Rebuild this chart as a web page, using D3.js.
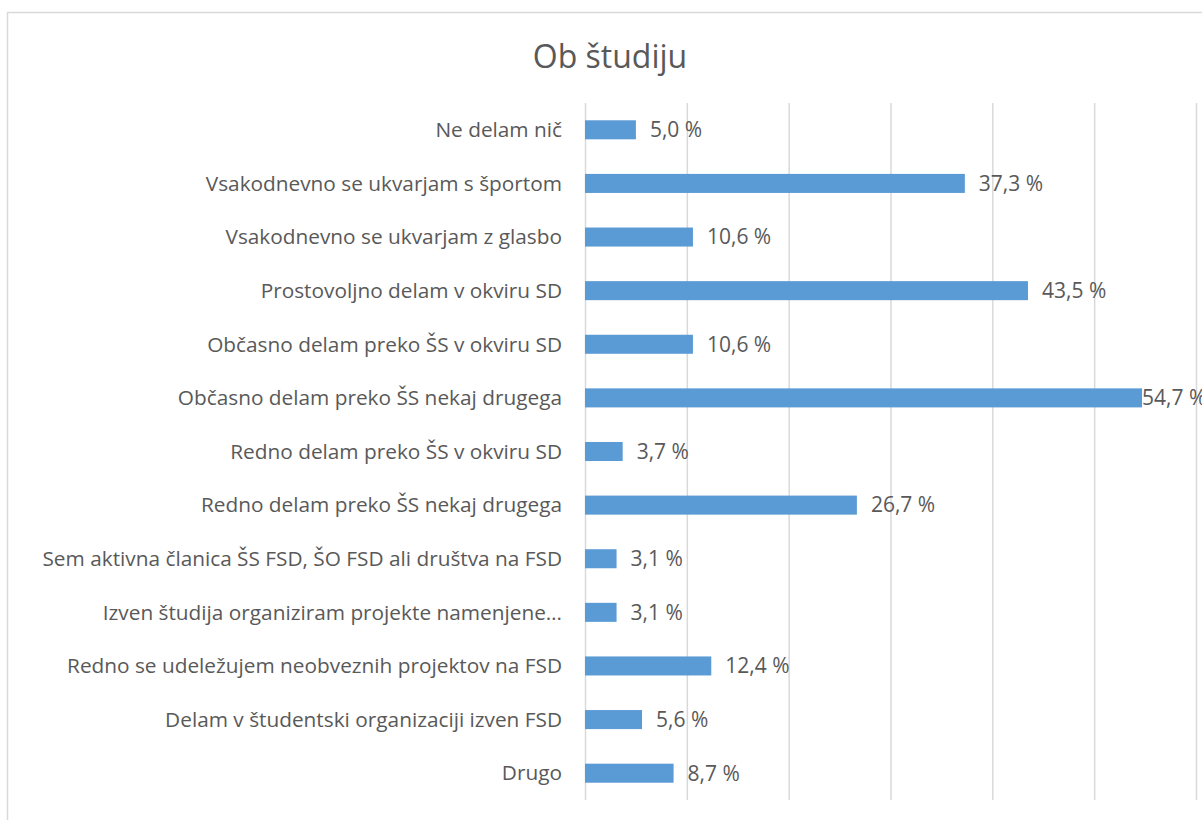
<!DOCTYPE html>
<html>
<head>
<meta charset="utf-8">
<script src="https://cdn.jsdelivr.net/npm/d3@7"></script>
<style>
  body { margin: 0; background: #fff; }
  svg { display: block; font-family: "Open Sans", sans-serif; }
</style>
</head>
<body>
<svg id="chart" width="1202" height="820"></svg>
<script>
// data
const title = "Ob študiju";
const categories = [
  "Ne delam nič",
  "Vsakodnevno se ukvarjam s športom",
  "Vsakodnevno se ukvarjam z glasbo",
  "Prostovoljno delam v okviru SD",
  "Občasno delam preko ŠS v okviru SD",
  "Občasno delam preko ŠS nekaj drugega",
  "Redno delam preko ŠS v okviru SD",
  "Redno delam preko ŠS nekaj drugega",
  "Sem aktivna članica ŠS FSD, ŠO FSD ali društva na FSD",
  "Izven študija organiziram projekte namenjene…",
  "Redno se udeležujem neobveznih projektov na FSD",
  "Delam v študentski organizaciji izven FSD",
  "Drugo"
];
const values = [5.0, 37.3, 10.6, 43.5, 10.6, 54.7, 3.7, 26.7, 3.1, 3.1, 12.4, 5.6, 8.7];
const xTicks = [0, 10, 20, 30, 40, 50, 60];

const svg = d3.select("#chart");
const textColor = "#595959";
const gridColor = "#d9d9d9";
const barColor = "#5b9bd5";

const plot = { left: 585, right: 1196, top: 103, bottom: 800 };
const chartRight = 1208;

// chart border (runs off the right and bottom edges)
svg.append("rect")
  .attr("x", 7.5).attr("y", 12.5)
  .attr("width", 1220).attr("height", 830)
  .attr("fill", "none")
  .attr("stroke", gridColor)
  .attr("stroke-width", 1.5);

svg.append("text")
  .attr("x", 610).attr("y", 68)
  .attr("text-anchor", "middle")
  .style("font-size", "32px")
  .style("fill", textColor)
  .text(title);

const x = d3.scaleLinear().domain([0, 60]).range([plot.left, plot.right]);
const y = d3.scaleBand()
  .domain(categories)
  .range([plot.top, plot.bottom])
  .paddingInner(0.645)
  .paddingOuter(0.3225);

// gridlines
svg.append("g")
  .attr("transform", `translate(0,${plot.bottom})`)
  .call(d3.axisBottom(x).tickValues(xTicks).tickSize(-(plot.bottom - plot.top)).tickFormat(""))
  .call(g => g.select(".domain").remove())
  .call(g => g.selectAll(".tick line").attr("stroke", gridColor).attr("stroke-width", 1.5));

// category labels
svg.append("g")
  .selectAll("text")
  .data(categories)
  .join("text")
  .attr("x", plot.left - 23)
  .attr("y", d => y(d) + y.bandwidth() / 2)
  .attr("dy", "0.35em")
  .attr("text-anchor", "end")
  .style("font-size", "20.8px")
  .style("fill", textColor)
  .text(d => d);

const rows = categories.map((c, i) => ({ c, v: values[i] }));

svg.append("g")
  .selectAll("rect")
  .data(rows)
  .join("rect")
  .attr("x", x(0))
  .attr("y", d => y(d.c))
  .attr("width", d => x(d.v) - x(0))
  .attr("height", y.bandwidth())
  .attr("fill", barColor);

const fmt = v => d3.format(".1f")(v).replace(".", ",") + " %";

svg.append("g")
  .selectAll("text")
  .data(rows)
  .join("text")
  .attr("y", d => y(d.c) + y.bandwidth() / 2)
  .attr("dy", "0.35em")
  .style("font-size", "21px")
  .style("fill", textColor)
  .text(d => fmt(d.v))
  .attr("x", function(d) {
    const w = this.getComputedTextLength();
    const pos = x(d.v) + 14;
    return pos + w > chartRight ? x(d.v) : pos;
  });
</script>
</body>
</html>
